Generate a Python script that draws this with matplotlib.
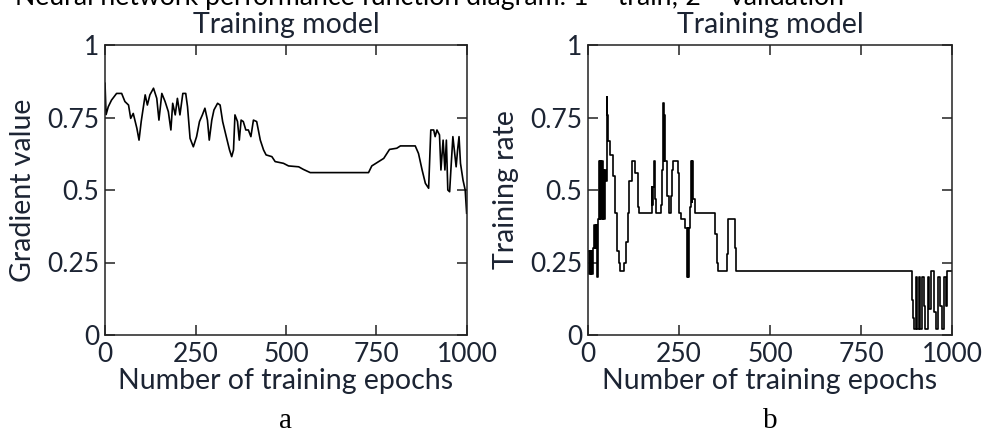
import matplotlib
matplotlib.use("Agg")
import matplotlib.pyplot as plt

plt.rcParams['font.family'] = ['Lato', 'DejaVu Sans']

# Графік a: значення градієнта по епохах
grad_epochs = [0, 3, 9, 18, 32, 46, 55, 65, 71, 78, 88, 94, 100, 111, 117, 124, 134, 143, 149, 157,
               166, 175, 182, 187, 194, 200, 207, 215, 223, 228, 235, 244, 253, 261, 269, 276, 283, 288, 295, 301,
               311, 318, 325, 335, 344, 350, 355, 359, 366, 371, 376, 382, 389, 396, 403, 410, 419, 429, 438, 445,
               461, 470, 493, 507, 535, 548, 567, 728, 737, 756, 770, 786, 806, 816, 857, 866, 876, 885, 894, 900,
               908, 912, 917, 924, 928, 934, 939, 943, 947, 952, 956, 961, 966, 970, 974, 978, 982, 989, 995, 999]
grad_values = [0.868, 0.76, 0.787, 0.81, 0.833, 0.833, 0.805, 0.793, 0.747, 0.764, 0.713, 0.672, 0.736, 0.828, 0.793, 0.828, 0.851, 0.816, 0.741, 0.833,
               0.805, 0.770, 0.707, 0.799, 0.759, 0.816, 0.759, 0.833, 0.833, 0.787, 0.678, 0.649, 0.684, 0.736, 0.759, 0.782, 0.741, 0.672, 0.741, 0.776,
               0.799, 0.793, 0.736, 0.684, 0.638, 0.615, 0.638, 0.759, 0.736, 0.672, 0.741, 0.736, 0.707, 0.707, 0.684, 0.741, 0.736, 0.672, 0.638, 0.621,
               0.615, 0.598, 0.592, 0.583, 0.580, 0.571, 0.560, 0.560, 0.583, 0.598, 0.609, 0.640, 0.644, 0.652, 0.652, 0.626, 0.569, 0.523, 0.506, 0.707,
               0.707, 0.684, 0.707, 0.690, 0.569, 0.672, 0.569, 0.672, 0.5, 0.494, 0.580, 0.684, 0.626, 0.580, 0.638, 0.684, 0.592, 0.534, 0.5, 0.420]

# Графік b: швидкість навчання (східчаста)
rate_epochs = [0, 3, 5, 7, 9, 11, 13, 17, 19, 21, 23, 25, 26, 28, 30, 32, 34, 36, 38, 40,
               42, 44, 46, 49, 51, 53, 55, 60, 70, 74, 80, 85, 88, 100, 105, 110, 114, 120, 130, 136,
               141, 175, 177, 179, 181, 183, 186, 200, 204, 207, 209, 210, 212, 218, 223, 227, 230, 233, 246, 250,
               255, 267, 272, 274, 276, 278, 280, 283, 285, 287, 289, 295, 350, 354, 358, 381, 385, 403, 407, 890,
               893, 896, 901, 905, 909, 913, 918, 923, 927, 933, 938, 943, 951, 955, 961, 966, 972, 978, 983, 987, 1000]
rate_values = [0.29, 0.21, 0.29, 0.21, 0.29, 0.21, 0.30, 0.38, 0.30, 0.38, 0.30, 0.38, 0.20, 0.40, 0.60, 0.40, 0.60, 0.40, 0.60, 0.40,
               0.57, 0.40, 0.57, 0.53, 0.82, 0.76, 0.67, 0.62, 0.55, 0.42, 0.29, 0.25, 0.22, 0.25, 0.32, 0.42, 0.53, 0.60, 0.56, 0.44,
               0.42, 0.51, 0.45, 0.51, 0.60, 0.47, 0.42, 0.45, 0.57, 0.80, 0.60, 0.76, 0.60, 0.48, 0.42, 0.48, 0.57, 0.60, 0.56, 0.42,
               0.40, 0.37, 0.20, 0.37, 0.20, 0.37, 0.44, 0.60, 0.46, 0.60, 0.47, 0.42, 0.35, 0.25, 0.22, 0.28, 0.40, 0.30, 0.22, 0.12,
               0.06, 0.02, 0.20, 0.02, 0.20, 0.02, 0.20, 0.10, 0.02, 0.20, 0.09, 0.22, 0.08, 0.02, 0.20, 0.10, 0.02, 0.20, 0.10, 0.22, 0.22]

x_ticks = [0, 250, 500, 750, 1000]
x_ticklabels = ["0", "250", "500", "750", "1000"]
y_ticks = [0, 0.25, 0.5, 0.75, 1]
y_ticklabels = ["0", "0.25", "0.5", "0.75", "1"]

txt = '#1c2433'
W, H = 984, 433

fig = plt.figure(figsize=(W / 100, H / 100), dpi=100)

ax1 = fig.add_axes([105 / W, 1 - 335 / H, 362 / W, 290 / H])
ax2 = fig.add_axes([588 / W, 1 - 335 / H, 364 / W, 290 / H])

ax1.plot(grad_epochs, grad_values, color='black', lw=1.2)
ax2.step(rate_epochs, rate_values, where='post', color='black', lw=1.2)

for ax, ylab in [(ax1, "Gradient value"), (ax2, "Training rate")]:
    ax.set_xlim(0, 1000)
    ax.set_ylim(0, 1)
    ax.set_xticks(x_ticks)
    ax.set_xticklabels(x_ticklabels)
    ax.set_yticks(y_ticks)
    ax.set_yticklabels(y_ticklabels)
    ax.tick_params(direction='in', length=7, width=1.1, top=True, right=True,
                   labelsize=19, labelcolor=txt, color='#222222')
    ax.tick_params(axis='x', pad=5)
    ax.tick_params(axis='y', pad=4)
    for s in ax.spines.values():
        s.set_linewidth(1.1)
        s.set_color('#222222')
    ax.set_title("Training model", fontsize=20.5, color=txt, pad=9)
    ax.set_xlabel("Number of training epochs", fontsize=20.5, color=txt)
    ax.xaxis.set_label_coords(0.5, -0.115)
    ax.set_ylabel(ylab, fontsize=20.5, color=txt)

ax1.yaxis.set_label_coords(-0.19, 0.5)
ax2.yaxis.set_label_coords(-0.19, 0.5)

fig.text(15 / W, 1 - 5 / H, "Neural network performance function diagram: 1 – train; 2 – validation",
         fontsize=19.2, color='black', va='baseline', ha='left')
fig.text(286 / W, 1 - 428 / H, "a", family='Liberation Serif', fontsize=21, color='black',
         va='baseline', ha='center')
fig.text(770 / W, 1 - 428 / H, "b", family='Liberation Serif', fontsize=21, color='black',
         va='baseline', ha='center')

fig.savefig("out.png", dpi=100)
